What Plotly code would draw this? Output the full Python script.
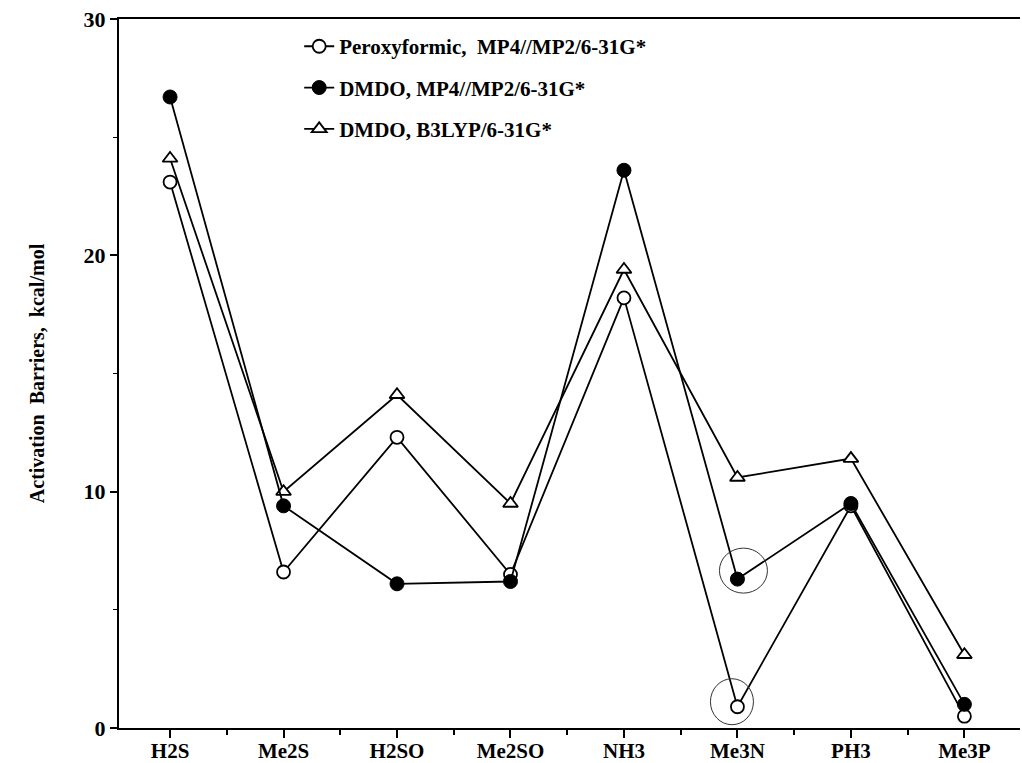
import plotly.graph_objects as go

categories = ["H2S", "Me2S", "H2SO", "Me2SO", "NH3", "Me3N", "PH3", "Me3P"]
peroxyformic_mp4 = [23.1, 6.6, 12.3, 6.5, 18.2, 0.9, 9.4, 0.5]
dmdo_mp4 = [26.7, 9.4, 6.1, 6.2, 23.6, 6.3, 9.5, 1.0]
dmdo_b3lyp = [24.1, 10.0, 14.1, 9.5, 19.4, 10.6, 11.4, 3.1]
names = ["Peroxyformic,  MP4//MP2/6-31G*", "DMDO, MP4//MP2/6-31G*", "DMDO, B3LYP/6-31G*"]
y_ticks = [0, 10, 20, 30]
y_minor = [5, 15, 25]
circled = ["Me3N"]

xpos = list(range(len(categories)))
font_family = "Liberation Serif"

fig = go.Figure()
series = [
    (peroxyformic_mp4, names[0], dict(symbol="circle", color="white", size=13,
                                      line=dict(color="black", width=1.8)), 1),
    (dmdo_b3lyp, names[2], dict(symbol="triangle-up", color="white", size=13,
                                line=dict(color="black", width=1.8)), 3),
    (dmdo_mp4, names[1], dict(symbol="circle", color="black", size=14,
                              line=dict(color="black", width=1)), 2),
]
for vals, nm, mk, rank in series:
    fig.add_trace(go.Scatter(
        x=xpos, y=vals, mode="lines+markers", name=nm,
        line=dict(color="black", width=1.8), marker=mk,
        legendrank=rank, legendgroup=nm,
    ))

# hand-drawn ellipses around Me3N points
for c in circled:
    i = categories.index(c)
    fig.add_shape(type="circle", xref="x", yref="y", xsizemode="pixel", ysizemode="pixel",
                  xanchor=xpos[i], yanchor=dmdo_mp4[i], x0=-18, x1=30, y0=-14, y1=31,
                  line=dict(color="#333", width=1))
    fig.add_shape(type="circle", xref="x", yref="y", xsizemode="pixel", ysizemode="pixel",
                  xanchor=xpos[i], yanchor=peroxyformic_mp4[i], x0=-27, x1=16, y0=-18, y1=28,
                  line=dict(color="#333", width=1))

minor_x = [i + 0.5 for i in xpos[:-1]]

fig.update_layout(
    width=1022, height=763,
    margin=dict(l=119, r=2, t=19, b=35),
    paper_bgcolor="white", plot_bgcolor="white",
    font=dict(family=font_family, size=20, color="black", weight="bold"),
    showlegend=True,
    legend=dict(x=0.2, y=0.99, xanchor="left", yanchor="top",
                traceorder="grouped", tracegroupgap=11,
                font=dict(family=font_family, size=21, color="black", weight="bold"),
                bgcolor="rgba(0,0,0,0)"),
)
fig.update_xaxes(
    range=[-0.45, 7.49], tickmode="array", tickvals=xpos, ticktext=categories,
    automargin=False,
    showgrid=False, zeroline=False, showline=True, linecolor="black", linewidth=2,
    mirror=True, ticks="outside", ticklen=8, tickwidth=1.5, tickcolor="black",
    ticklabelstandoff=-5,
    minor=dict(tickvals=minor_x, ticks="outside", ticklen=5, tickwidth=1.5, tickcolor="black"),
    tickfont=dict(family=font_family, size=21, weight="bold"),
)
fig.update_yaxes(
    range=[0, 30], tickmode="array", tickvals=y_ticks,
    automargin=False,
    showgrid=False, zeroline=False, showline=True, linecolor="black", linewidth=2,
    ticks="outside", ticklen=7, tickwidth=1.5, tickcolor="black",
    minor=dict(tickvals=y_minor, ticks="outside", ticklen=4, tickwidth=1.2, tickcolor="black"),
    tickfont=dict(family=font_family, size=22, weight="bold"),
    title=dict(text="Activation  Barriers,  kcal/mol", standoff=34,
               font=dict(family=font_family, size=20, weight="bold")),
)

fig.write_html("out.html")
